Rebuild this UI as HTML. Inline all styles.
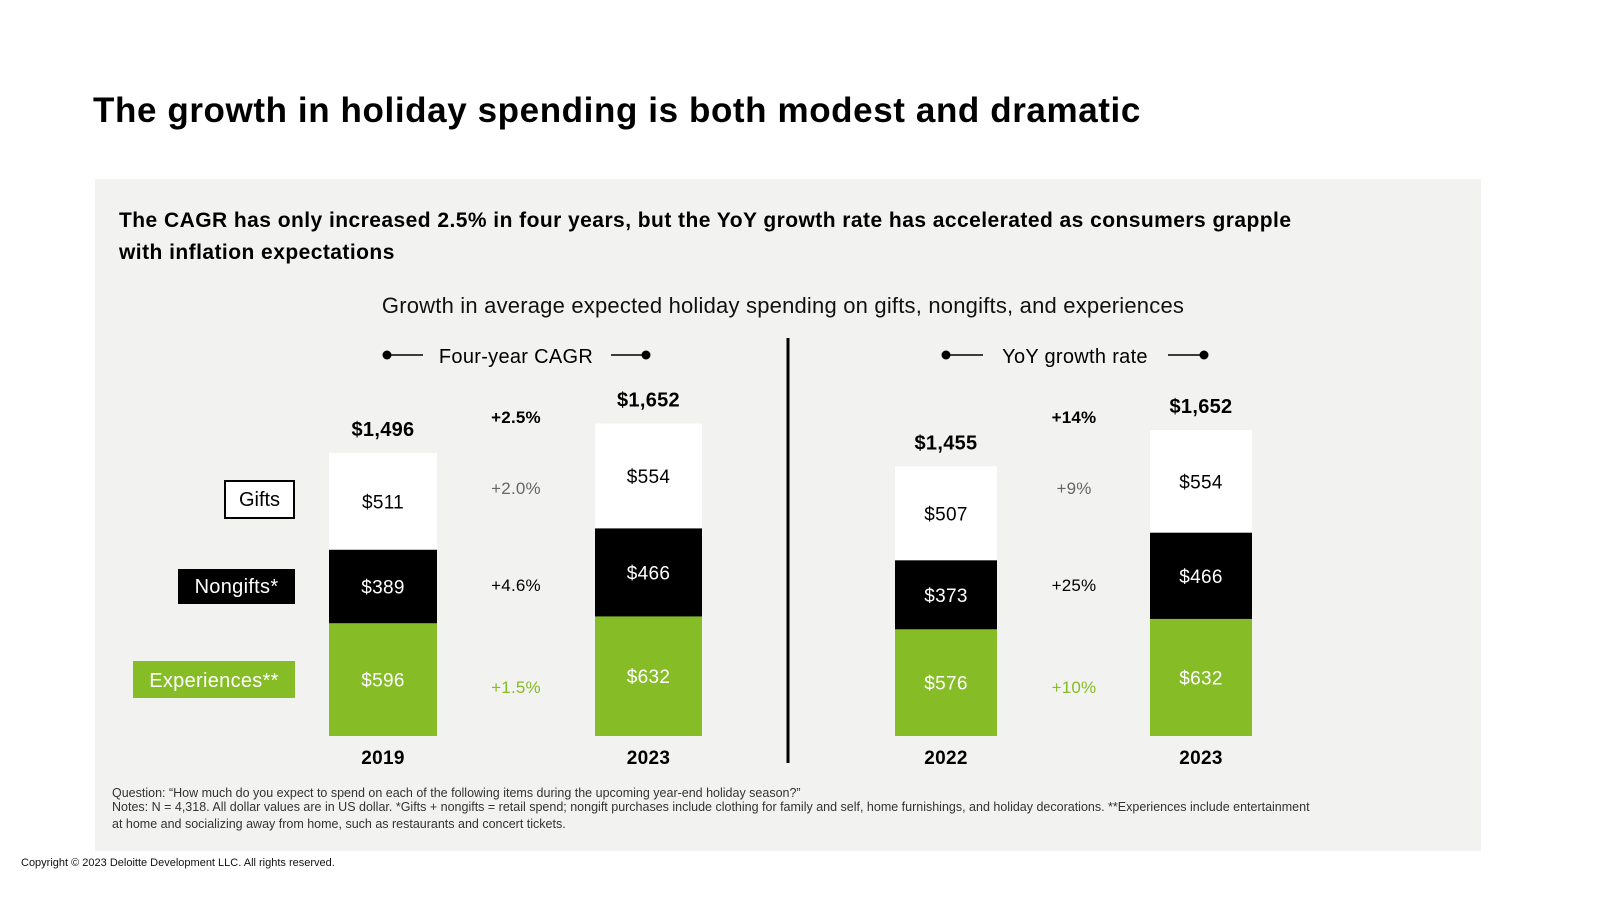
<!DOCTYPE html>
<html><head><meta charset="utf-8"><style>
body{margin:0;width:1600px;height:900px;background:#fff;overflow:hidden;font-family:"Liberation Sans",sans-serif}
svg text{font-family:"Liberation Sans",sans-serif}
</style></head><body>
<svg id="c" width="1600" height="900" xmlns="http://www.w3.org/2000/svg">
<text x="93" y="122" font-size="35" font-weight="bold" letter-spacing="0.6" fill="#000">The growth in holiday spending is both modest and dramatic</text>
<rect x="95" y="179" width="1386" height="672" fill="#f2f2f0"/>
<text x="119" y="227" font-size="21" font-weight="bold" letter-spacing="0.45">The CAGR has only increased 2.5% in four years, but the YoY growth rate has accelerated as consumers grapple</text>
<text x="119" y="259" font-size="21" font-weight="bold" letter-spacing="0.45">with inflation expectations</text>
<text x="783" y="313" font-size="22" letter-spacing="0.2" text-anchor="middle" fill="#111">Growth in average expected holiday spending on gifts, nongifts, and experiences</text>
<line x1="788" y1="338" x2="788" y2="763" stroke="#000" stroke-width="3"/>
<g>
<circle cx="387" cy="355" r="4.5"/><line x1="387" y1="355" x2="423" y2="355" stroke="#000" stroke-width="1.5"/>
<text x="516" y="363" font-size="20" letter-spacing="0.3" text-anchor="middle">Four-year CAGR</text>
<line x1="611" y1="355" x2="646" y2="355" stroke="#000" stroke-width="1.5"/><circle cx="646" cy="355" r="4.5"/>
</g>
<g>
<circle cx="946" cy="355" r="4.5"/><line x1="946" y1="355" x2="983" y2="355" stroke="#000" stroke-width="1.5"/>
<text x="1075" y="363" font-size="20" letter-spacing="0.3" text-anchor="middle">YoY growth rate</text>
<line x1="1168" y1="355" x2="1204" y2="355" stroke="#000" stroke-width="1.5"/><circle cx="1204" cy="355" r="4.5"/>
</g>
<g><rect x="225" y="481" width="69" height="37" fill="#fff" stroke="#000" stroke-width="2"/><text x="259.5" y="506" font-size="20" text-anchor="middle">Gifts</text></g>
<g><rect x="178" y="569" width="117" height="35" fill="#000"/><text x="236.5" y="593" font-size="20" letter-spacing="0.3" text-anchor="middle" fill="#fff">Nongifts*</text></g>
<g><rect x="133" y="661" width="162" height="37" fill="#86bc25"/><text x="214" y="687" font-size="20" letter-spacing="0.3" text-anchor="middle" fill="#fff">Experiences**</text></g>
<g id="bars"></g>
<text x="112" y="797" font-size="12.5" fill="#333">Question: “How much do you expect to spend on each of the following items during the upcoming year-end holiday season?”</text>
<text x="112" y="811" font-size="12.5" fill="#333">Notes: N = 4,318. All dollar values are in US dollar. *Gifts + nongifts = retail spend; nongift purchases include clothing for family and self, home furnishings, and holiday decorations. **Experiences include entertainment</text>
<text x="112" y="828" font-size="12.5" fill="#333">at home and socializing away from home, such as restaurants and concert tickets.</text>
<text x="21" y="866" font-size="11" fill="#111">Copyright © 2023 Deloitte Development LLC. All rights reserved.</text>
</svg>
<script>
const years=["2019","2023","2022","2023"];
const experiences=[596,632,576,632];
const nongifts=[389,466,373,466];
const gifts=[511,554,507,554];
const totals=["$1,496","$1,652","$1,455","$1,652"];
const leftGrowth=["+2.5%","+2.0%","+4.6%","+1.5%"];
const rightGrowth=["+14%","+9%","+25%","+10%"];
const NS="http://www.w3.org/2000/svg";
const g=document.getElementById('bars');
const base=736;
const barX=[329,595,895,1150];
const barW=[108,107,102,102];
function yScale(i,v){const s=i<2?283/1496:306/1652;return v*s;}
function mk(tag,attrs,txt){const e=document.createElementNS(NS,tag);for(const k in attrs)e.setAttribute(k,attrs[k]);if(txt!==undefined)e.textContent=txt;g.appendChild(e);return e;}
const segs=[[experiences,"#86bc25","#fff","experiences"],[nongifts,"#000","#fff","nongifts"],[gifts,"#fff","#000","gifts"]];
for(let i=0;i<4;i++){
  let y=base;
  const cx=barX[i]+barW[i]/2;
  for(const [arr,fill,tc,nm] of segs){
    const h=yScale(i,arr[i]);
    const r=mk('rect',{x:barX[i],y:y-h,width:barW[i],height:h,fill:fill});
    
    
    const t=mk('text',{x:cx,y:y-h/2+7,'font-size':19,'letter-spacing':0.3,'text-anchor':'middle',fill:tc},'$'+arr[i]);
    
    
    y-=h;
  }
  const tt=mk('text',{x:cx,y:y-17,'font-size':20,'font-weight':'bold','letter-spacing':0.3,'text-anchor':'middle'},totals[i]);
  
  
  const yl=mk('text',{x:cx,y:764,'font-size':19,'font-weight':'bold','letter-spacing':0.3,'text-anchor':'middle'},years[i]);
  
  
}
const gy=[423,494,591,693],gc=["#000","#666","#000","#86bc25"],gw=["bold","normal","normal","normal"];
for(let k=0;k<4;k++){
  const a=mk('text',{x:516,y:gy[k],'font-size':17,'font-weight':gw[k],'letter-spacing':0.2,'text-anchor':'middle',fill:gc[k]},leftGrowth[k]);
  
  
  const b=mk('text',{x:1074,y:gy[k],'font-size':17,'font-weight':gw[k],'letter-spacing':0.2,'text-anchor':'middle',fill:gc[k]},rightGrowth[k]);
  
  
}
</script>
</body></html>
